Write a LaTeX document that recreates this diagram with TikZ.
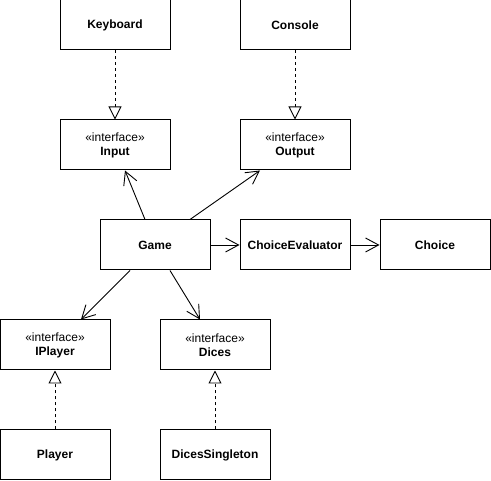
\documentclass[tikz,border=0pt]{standalone}
\usepackage{fontspec}
\setmainfont{Liberation Sans}
\usetikzlibrary{arrows.meta}
\begin{document}
\begin{tikzpicture}[x=1pt,y=-1pt,
  box/.style={draw, line width=1pt, rectangle, minimum width=110pt, minimum height=50pt, inner sep=0pt, align=center, font=\fontsize{12}{14}\selectfont},
  assoc/.style={draw, line width=0.9pt, -{Straight Barb[length=13pt,width=14pt,line width=0.9pt]}},
  realize/.style={draw, line width=0.9pt, dash pattern=on 3pt off 3pt, -{Triangle[open,length=13pt,width=13pt,line width=0.9pt,fill=white]}}]
\useasboundingbox (0,0) rectangle (491,481);
\node[box] (keyboard) at (115,25) {\textbf{Keyboard}};
\node[box] (console) at (295,25) {\textbf{Console}};
\node[box] (input) at (115,145) {«interface»\\\textbf{Input}};
\node[box] (output) at (295,145) {«interface»\\\textbf{Output}};
\node[box] (game) at (155,245) {\textbf{Game}};
\node[box] (eval) at (295,245) {\textbf{ChoiceEvaluator}};
\node[box] (choice) at (435,245) {\textbf{Choice}};
\node[box] (iplayer) at (55,345) {«interface»\\\textbf{IPlayer}};
\node[box] (dices) at (215,345) {«interface»\\\textbf{Dices}};
\node[box] (player) at (55,455) {\textbf{Player}};
\node[box] (singleton) at (215,455) {\textbf{DicesSingleton}};
\draw[realize] (keyboard.south) -- (input.north);
\draw[realize] (console.south) -- (output.north);
\draw[realize] (player.north) -- (iplayer.south);
\draw[realize] (singleton.north) -- (dices.south);
\draw[assoc] ([xshift=-10pt]game.north) -- ([xshift=10pt]input.south);
\draw[assoc] ([xshift=35pt]game.north) -- ([xshift=-35pt]output.south);
\draw[assoc] (game.east) -- (eval.west);
\draw[assoc] (eval.east) -- (choice.west);
\draw[assoc] ([xshift=-25pt]game.south) -- ([xshift=26pt]iplayer.north);
\draw[assoc] ([xshift=15pt]game.south) -- ([xshift=-15pt]dices.north);
\end{tikzpicture}
\end{document}
